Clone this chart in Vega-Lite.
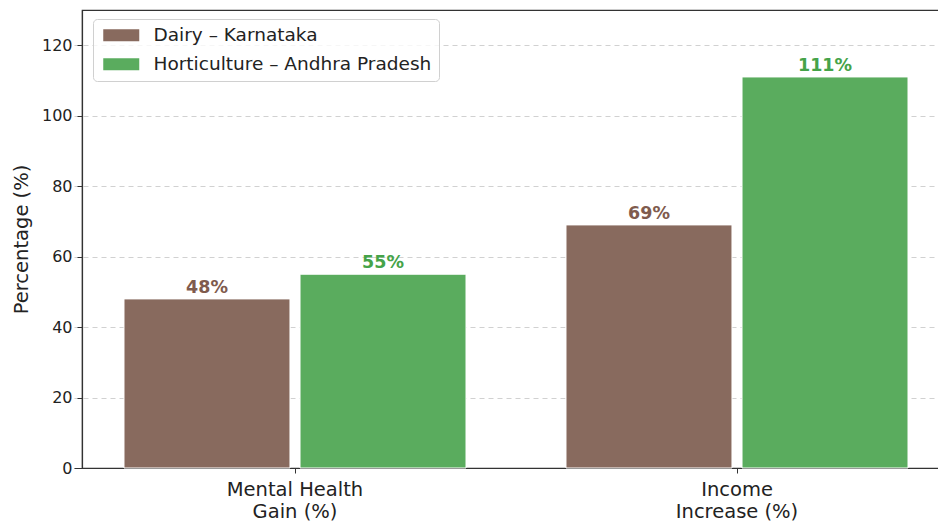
{
  "$schema": "https://vega.github.io/schema/vega-lite/v6.json",
  "width": 867,
  "height": 458,
  "autosize": {"type": "none"},
  "padding": {"left": 82, "top": 10, "right": 0, "bottom": 55},
  "background": "white",
  "config": {
    "font": "DejaVu Sans",
    "view": {"stroke": "#333333", "strokeWidth": 1.2},
    "axis": {"labelFont": "DejaVu Sans", "titleFont": "DejaVu Sans", "labelColor": "#222222", "titleColor": "#222222", "domainColor": "#333333", "tickColor": "#333333"}
  },
  "data": {
    "values": [
      {"metric": "Mental Health Gain (%)", "group": "Dairy – Karnataka", "value": 48},
      {"metric": "Mental Health Gain (%)", "group": "Horticulture – Andhra Pradesh", "value": 55},
      {"metric": "Income Increase (%)", "group": "Dairy – Karnataka", "value": 69},
      {"metric": "Income Increase (%)", "group": "Horticulture – Andhra Pradesh", "value": 111}
    ]
  },
  "transform": [{"calculate": "datum.value + '%'", "as": "label"}],
  "encoding": {
    "x": {
      "field": "metric", "type": "nominal",
      "sort": ["Mental Health Gain (%)", "Income Increase (%)"],
      "scale": {"range": [-8, 876], "paddingInner": 0, "paddingOuter": 0},
      "axis": {
        "title": null, "labelAngle": 0, "labelFontSize": 19.5, "labelLineHeight": 22,
        "labelPadding": 7, "tickSize": 5, "domainWidth": 1.2,
        "labelExpr": "datum.label == 'Income Increase (%)' ? ['Income', 'Increase (%)'] : ['Mental Health', 'Gain (%)']"
      }
    },
    "xOffset": {
      "field": "group", "type": "nominal",
      "sort": ["Dairy – Karnataka", "Horticulture – Andhra Pradesh"],
      "scale": {"paddingInner": 0.057, "paddingOuter": 0.284}
    },
    "y": {
      "field": "value", "type": "quantitative",
      "scale": {"domain": [0, 130], "nice": false},
      "axis": {
        "title": "Percentage (%)", "titleFontSize": 19.5, "titleFontWeight": "normal", "titlePadding": 10,
        "values": [0, 20, 40, 60, 80, 100, 120], "labelFontSize": 16, "tickSize": 5, "labelPadding": 5,
        "domainWidth": 1.2, "grid": true, "gridDash": [5, 4], "gridColor": "#cccccc", "gridWidth": 0.9
      }
    }
  },
  "layer": [
    {
      "mark": {"type": "bar", "stroke": "white", "strokeWidth": 1},
      "encoding": {
        "color": {
          "field": "group", "type": "nominal",
          "scale": {"domain": ["Dairy – Karnataka", "Horticulture – Andhra Pradesh"], "range": ["#886a5e", "#5aac5e"]},
          "legend": {
            "title": null, "orient": "none", "legendX": 11, "legendY": 9,
            "symbolType": "M-1,-1H5V1H-1Z", "symbolSize": 144, "symbolStrokeWidth": 0, "symbolOpacity": 1,
            "labelFontSize": 18.5, "labelFont": "DejaVu Sans", "labelColor": "#222222", "labelOffset": 35, "labelLimit": 500,
            "rowPadding": 10, "padding": 7,
            "fillColor": "rgba(255,255,255,0.8)", "strokeColor": "#d0d0d0", "cornerRadius": 4
          }
        }
      }
    },
    {
      "mark": {"type": "text", "baseline": "alphabetic", "dy": -6, "fontSize": 17.5, "fontWeight": "bold", "font": "DejaVu Sans"},
      "encoding": {
        "text": {"field": "label"},
        "color": {"condition": {"test": "datum.group == 'Dairy – Karnataka'", "value": "#7f5b4e"}, "value": "#45a349"}
      }
    }
  ]
}
